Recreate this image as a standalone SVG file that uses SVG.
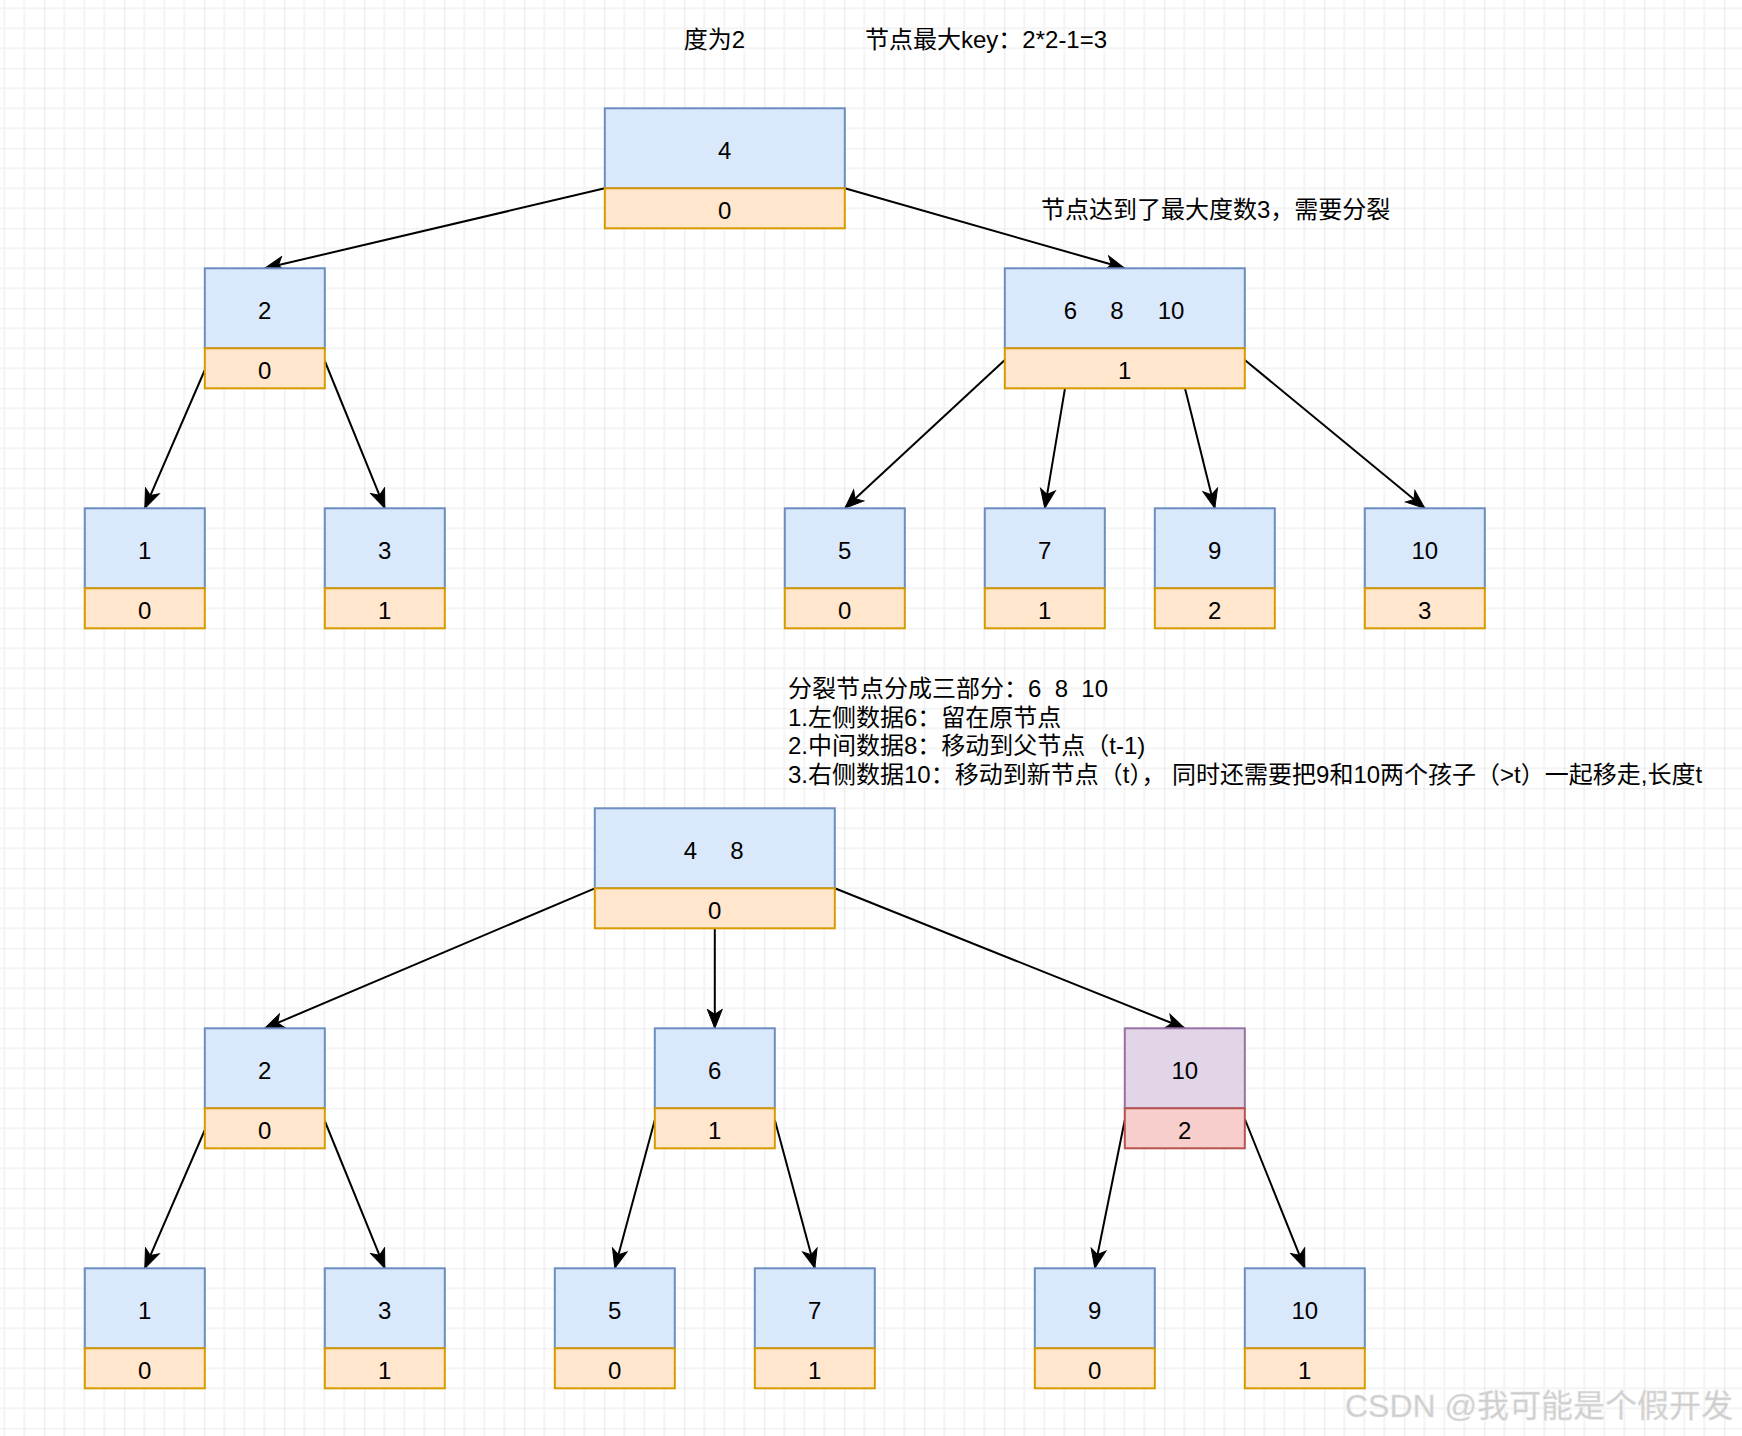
<svg xmlns="http://www.w3.org/2000/svg" width="1742" height="1436" viewBox="0 0 1742 1436">
<style>
text{font-family:"Liberation Sans","Noto Sans CJK SC",sans-serif;font-size:24px;fill:#000}
.c{text-anchor:middle}
.key{fill:#dae8fc;stroke:#6c8ebf;stroke-width:2}
.cnt{fill:#ffe6cc;stroke:#d79b00;stroke-width:2}
.pkey{fill:#e1d5e7;stroke:#9673a6;stroke-width:2}
.pcnt{fill:#f8cecc;stroke:#b85450;stroke-width:2}
.e{stroke:#000;stroke-width:2;fill:none;marker-end:url(#arr)}
.wm{font-size:32px;fill:#cdcdcd;stroke:#e4e4e4;stroke-width:0.6}
</style>
<defs>
<pattern id="grid" patternUnits="userSpaceOnUse" x="44.3" y="68.3" width="80" height="80">
<path d="M20 0V80M40 0V80M60 0V80M0 20H80M0 40H80M0 60H80" stroke="#f4f4f4" stroke-width="2" fill="none"/>
<path d="M0 0V80M0 0H80" stroke="#d9d9d9" stroke-width="1.2" fill="none"/>
</pattern>
<marker id="arr" markerUnits="userSpaceOnUse" viewBox="-20 -9 21 18" refX="0" refY="0" markerWidth="21" markerHeight="18" orient="auto">
<path d="M0 0L-19 -7.5L-14 0L-19 7.5Z" fill="#000" stroke="#000" stroke-width="1"/>
</marker>
</defs>
<rect width="1742" height="1436" fill="#fff"/>
<rect width="1742" height="1436" fill="url(#grid)"/>

<g id="labels">
<text class="c" x="714.4" y="48">度为2</text>
<text x="865" y="48">节点最大key：2*2-1=3</text>
<text x="1041" y="218">节点达到了最大度数3，需要分裂</text>
<text x="788" y="697">分裂节点分成三部分：6&#160;&#160;8&#160;&#160;10</text>
<text x="788" y="725.5">1.左侧数据6：留在原节点</text>
<text x="788" y="754">2.中间数据8：移动到父节点（t-1)</text>
<text x="788" y="782.5">3.右侧数据10：移动到新节点（t），&#160;同时还需要把9和10两个孩子（&gt;t）一起移走,长度t</text>
</g>

<g id="connectors">
<line class="e" x1="604.8" y1="188.3" x2="264.8" y2="268.3"/>
<line class="e" x1="844.8" y1="188.3" x2="1124.8" y2="268.3"/>
<line class="e" x1="204.8" y1="370" x2="144.8" y2="508.3"/>
<line class="e" x1="324.8" y1="361" x2="384.8" y2="508.3"/>
<line class="e" x1="1004.8" y1="360" x2="844.8" y2="508.3"/>
<line class="e" x1="1065" y1="388.3" x2="1044.8" y2="508.3"/>
<line class="e" x1="1185" y1="388.3" x2="1214.8" y2="508.3"/>
<line class="e" x1="1244.8" y1="360" x2="1424.8" y2="508.3"/>
<line class="e" x1="594.8" y1="888.3" x2="264.8" y2="1028.3"/>
<line class="e" x1="714.8" y1="928.3" x2="714.8" y2="1028.3"/>
<line class="e" x1="834.8" y1="888.3" x2="1184.8" y2="1028.3"/>
<line class="e" x1="204.8" y1="1130" x2="144.8" y2="1268.3"/>
<line class="e" x1="324.8" y1="1121" x2="384.8" y2="1268.3"/>
<line class="e" x1="654.8" y1="1120" x2="614.8" y2="1268.3"/>
<line class="e" x1="774.8" y1="1120" x2="814.8" y2="1268.3"/>
<line class="e" x1="1124.8" y1="1120" x2="1094.8" y2="1268.3"/>
<line class="e" x1="1244.8" y1="1119" x2="1304.8" y2="1268.3"/>
</g>

<g id="t-root">
<rect class="key" x="604.8" y="108.3" width="240" height="80"/>
<rect class="cnt" x="604.8" y="188.3" width="240" height="40"/>
<text class="c" x="724.8" y="158.5">4</text>
<text class="c" x="724.8" y="218.5">0</text>
</g>
<g id="t-2">
<rect class="key" x="204.8" y="268.3" width="120" height="80"/>
<rect class="cnt" x="204.8" y="348.3" width="120" height="40"/>
<text class="c" x="264.8" y="318.5">2</text>
<text class="c" x="264.8" y="378.5">0</text>
</g>
<g id="t-6-8-10">
<rect class="key" x="1004.8" y="268.3" width="240" height="80"/>
<rect class="cnt" x="1004.8" y="348.3" width="240" height="40"/>
<text class="c" y="318.5"><tspan x="1070.5">6</tspan><tspan x="1117">8</tspan><tspan x="1171">10</tspan></text>
<text class="c" x="1124.8" y="378.5">1</text>
</g>
<g id="t-1">
<rect class="key" x="84.8" y="508.3" width="120" height="80"/>
<rect class="cnt" x="84.8" y="588.3" width="120" height="40"/>
<text class="c" x="144.8" y="558.5">1</text>
<text class="c" x="144.8" y="618.5">0</text>
</g>
<g id="t-3">
<rect class="key" x="324.8" y="508.3" width="120" height="80"/>
<rect class="cnt" x="324.8" y="588.3" width="120" height="40"/>
<text class="c" x="384.8" y="558.5">3</text>
<text class="c" x="384.8" y="618.5">1</text>
</g>
<g id="t-5">
<rect class="key" x="784.8" y="508.3" width="120" height="80"/>
<rect class="cnt" x="784.8" y="588.3" width="120" height="40"/>
<text class="c" x="844.8" y="558.5">5</text>
<text class="c" x="844.8" y="618.5">0</text>
</g>
<g id="t-7">
<rect class="key" x="984.8" y="508.3" width="120" height="80"/>
<rect class="cnt" x="984.8" y="588.3" width="120" height="40"/>
<text class="c" x="1044.8" y="558.5">7</text>
<text class="c" x="1044.8" y="618.5">1</text>
</g>
<g id="t-9">
<rect class="key" x="1154.8" y="508.3" width="120" height="80"/>
<rect class="cnt" x="1154.8" y="588.3" width="120" height="40"/>
<text class="c" x="1214.8" y="558.5">9</text>
<text class="c" x="1214.8" y="618.5">2</text>
</g>
<g id="t-10">
<rect class="key" x="1364.8" y="508.3" width="120" height="80"/>
<rect class="cnt" x="1364.8" y="588.3" width="120" height="40"/>
<text class="c" x="1424.8" y="558.5">10</text>
<text class="c" x="1424.8" y="618.5">3</text>
</g>

<g id="b-root">
<rect class="key" x="594.8" y="808.3" width="240" height="80"/>
<rect class="cnt" x="594.8" y="888.3" width="240" height="40"/>
<text class="c" y="858.5"><tspan x="690.5">4</tspan><tspan x="737">8</tspan></text>
<text class="c" x="714.8" y="918.5">0</text>
</g>
<g id="b-2">
<rect class="key" x="204.8" y="1028.3" width="120" height="80"/>
<rect class="cnt" x="204.8" y="1108.3" width="120" height="40"/>
<text class="c" x="264.8" y="1078.5">2</text>
<text class="c" x="264.8" y="1138.5">0</text>
</g>
<g id="b-6">
<rect class="key" x="654.8" y="1028.3" width="120" height="80"/>
<rect class="cnt" x="654.8" y="1108.3" width="120" height="40"/>
<text class="c" x="714.8" y="1078.5">6</text>
<text class="c" x="714.8" y="1138.5">1</text>
</g>
<g id="b-10">
<rect class="pkey" x="1124.8" y="1028.3" width="120" height="80"/>
<rect class="pcnt" x="1124.8" y="1108.3" width="120" height="40"/>
<text class="c" x="1184.8" y="1078.5">10</text>
<text class="c" x="1184.8" y="1138.5">2</text>
</g>
<g id="b-1">
<rect class="key" x="84.8" y="1268.3" width="120" height="80"/>
<rect class="cnt" x="84.8" y="1348.3" width="120" height="40"/>
<text class="c" x="144.8" y="1318.5">1</text>
<text class="c" x="144.8" y="1378.5">0</text>
</g>
<g id="b-3">
<rect class="key" x="324.8" y="1268.3" width="120" height="80"/>
<rect class="cnt" x="324.8" y="1348.3" width="120" height="40"/>
<text class="c" x="384.8" y="1318.5">3</text>
<text class="c" x="384.8" y="1378.5">1</text>
</g>
<g id="b-5">
<rect class="key" x="554.8" y="1268.3" width="120" height="80"/>
<rect class="cnt" x="554.8" y="1348.3" width="120" height="40"/>
<text class="c" x="614.8" y="1318.5">5</text>
<text class="c" x="614.8" y="1378.5">0</text>
</g>
<g id="b-7">
<rect class="key" x="754.8" y="1268.3" width="120" height="80"/>
<rect class="cnt" x="754.8" y="1348.3" width="120" height="40"/>
<text class="c" x="814.8" y="1318.5">7</text>
<text class="c" x="814.8" y="1378.5">1</text>
</g>
<g id="b-9">
<rect class="key" x="1034.8" y="1268.3" width="120" height="80"/>
<rect class="cnt" x="1034.8" y="1348.3" width="120" height="40"/>
<text class="c" x="1094.8" y="1318.5">9</text>
<text class="c" x="1094.8" y="1378.5">0</text>
</g>
<g id="b-10b">
<rect class="key" x="1244.8" y="1268.3" width="120" height="80"/>
<rect class="cnt" x="1244.8" y="1348.3" width="120" height="40"/>
<text class="c" x="1304.8" y="1318.5">10</text>
<text class="c" x="1304.8" y="1378.5">1</text>
</g>

<text class="wm" x="1345" y="1417">CSDN @我可能是个假开发</text>
</svg>
